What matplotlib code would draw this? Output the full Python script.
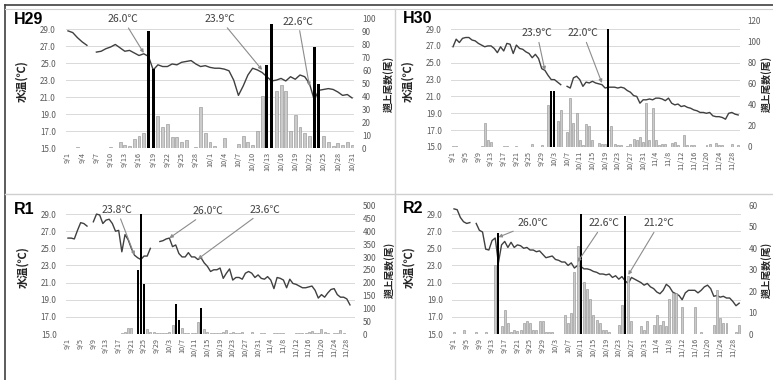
import numpy as np
import pandas as pd
import matplotlib
matplotlib.use("Agg")
import matplotlib.pyplot as plt
from matplotlib.lines import Line2D

plt.rcParams['font.family'] = ['Noto Sans CJK JP', 'DejaVu Sans']
nan = np.nan

# ---- H29 (9/1 - 10/31) ----
h29_temp = [28.8, 28.6, 28.0, 27.5, 27.1, nan, 26.3, 26.4, 26.7, 26.9,
            27.2, 26.8, 26.4, 26.5, 26.2, 25.9, 26.1, 25.8, 24.2, 24.8,
            24.6, 24.6, 24.9, 24.8, 25.1, 25.2, 25.3, 24.9, 24.6, 24.7,
            24.5, 24.4, 24.4, 24.3, 24.1, 23.0, 21.2, 22.3, 23.6, 24.4,
            24.2, 23.9, 23.4, 22.9, 23.0, 23.2, 22.9, 23.4, 23.1, 23.6,
            23.4, 22.6, 20.7, 21.8, 21.9, 22.0, 21.9, 21.6, 21.2, 21.3,
            20.9]
h29_count = [0, 0, 1, 0, 0, 0, 0, 0, 0, 1,
             0, 5, 2.5, 1.5, 7, 9.5, 12, 0, 0, 25,
             16.5, 18.5, 8.5, 8.5, 4.5, 6, 0, 1, 32, 11.5,
             4.5, 1.5, 0, 7.5, 0, 0, 3, 9.5, 4.5, 2.5,
             13.5, 40, 0, 0, 44.5, 49, 44.5, 13.5, 25.5, 16.5,
             11.5, 9.5, 0, 0, 9, 4.5, 1.5, 4, 2.5, 5,
             2]
h29_black_day = ['9/18', '9/19', '10/13', '10/14', '10/23', '10/24']
h29_black = [91, 61, 64, 96, 78, 50]
h29_notes = [('26.0℃', '9/17', 26.2), ('23.9℃', '10/12', 24.2), ('22.6℃', '10/22', 22.3)]

# ---- H30 (9/1 - 11/30) ----
h30_temp = [26.9, 27.8, 27.4, 27.9, 28.0, 28.0, 27.7, 27.6, 27.3, 27.1,
            26.9, 27.0, 27.0, 26.7, 26.2, 26.9, 26.4, 27.3, 27.2, 26.1,
            27.1, 26.7, 26.6, 26.3, 26.1, 25.6, 26.0, 25.5, 24.3, 24.1,
            23.5, 23.0, 23.0, 22.7, 22.4, nan, 22.2, 22.0, 23.2, 23.4,
            23.0, 22.2, 22.7, 22.6, 22.8, 22.6, 22.5, 22.4, 22.0, 22.1,
            22.1, 22.1, 22.0, 22.1, 22.0, 21.7, 21.5, 21.1, 21.0, 20.2,
            20.6, 20.6, 20.7, 20.6, 20.8, 20.8, 20.7, 20.5, 20.8, 20.2,
            20.0, 20.1, 19.8, 19.9, 19.7, 19.6, 19.4, 19.3, 19.1, 19.1,
            19.0, 19.1, 18.7, 18.6, 18.6, 18.5, 18.3, 19.0, 19.1, 18.9,
            18.8]
h30_count = [1, 1, 0, 0, 0, 0, 0, 0, 0, 1,
             23, 7, 5, 0, 0, 0, 1, 1, 0, 0,
             1, 0, 0, 0, 0, 3, 0, 0, 1.5, 0,
             40, 0, 0, 25, 35, 0, 14, 46, 23, 32,
             7, 1.5, 22, 19.5, 7, 0, 4, 3, 2.5, 0,
             19.5, 3, 2, 2, 0, 1, 3, 7.5, 7, 9,
             5, 42, 7, 37, 6.5, 1.5, 2.5, 2.5, 0, 3.5,
             4.5, 2, 0, 11.5, 1.5, 2, 2, 0, 0, 0,
             2, 3, 0, 3.5, 2, 2, 0, 0, 2.5, 0,
             2]
h30_black_day = ['10/2', '10/3', '10/20']
h30_black = [53, 53, 112]
h30_notes = [('23.9℃', '9/30', 24.1), ('22.0℃', '10/18', 22.6)]

# ---- R1 (9/1 - 11/30) ----
r1_temp = [26.2, 26.2, 26.1, 27.1, 28.0, 27.9, 27.6, nan, 28.1, 29.0,
           28.9, 27.9, 28.3, 28.4, 27.9, 27.0, 27.1, 24.6, 26.6, 26.0,
           25.0, 24.2, 23.9, 23.7, 24.1, 24.1, 25.0, nan, nan, 25.8,
           25.9, 26.1, 26.2, 25.2, 25.4, 24.4, 24.0, 24.0, 24.5, 24.0,
           24.0, 23.7, 23.9, 23.3, 22.9, 22.3, 22.5, 22.5, 22.7, 21.5,
           22.1, 22.6, 21.3, 21.6, 21.6, 21.4, 22.1, 22.3, 22.1, 21.6,
           21.9, 21.5, 21.4, 21.7, 21.3, 20.3, 21.6, 21.5, 21.3, 20.4,
           21.4, 20.9, 20.8, 20.6, 20.4, 20.4, 20.5, 20.6, 20.1, 19.2,
           19.6, 19.3, 19.8, 20.2, 20.3, 19.6, 19.3, 19.3, 19.1, 18.4,
           nan]
r1_count = [0, 0, 2, 0, 0, 0, 0, 2, 0, 0,
            0, 0, 2, 0, 2, 0, 0, 4, 8, 22,
            22, 0, 0, 0, 0, 18, 9, 6, 3, 4,
            4, 4, 6, 35, 0, 0, 22, 5, 4, 4,
            4, 47, 0, 19, 6, 3, 3, 5, 3, 8,
            14, 5, 7, 4, 3, 6, 2, 2, 7, 0,
            0, 3, 4, 0, 0, 4, 3, 3, 5, 2,
            0, 0, 4, 3, 3, 3, 6, 10, 4, 3,
            18, 8, 4, 0, 5, 5, 15, 4, 2, 0,
            0]
r1_black_day = ['9/23', '9/24', '9/25', '10/5', '10/6', '10/13']
r1_black = [249, 467, 195, 118, 55, 100]
r1_notes = [('23.8℃', '9/22', 24.2), ('26.0℃', '10/3', 26.2), ('23.6℃', '10/12', 23.75)]

# ---- R2 (9/1 - 11/30) ----
r2_temp = [29.6, 29.5, 28.6, 28.1, 27.9, 28.0, nan, 27.9, 27.1, 26.9,
           24.9, 24.8, 25.9, 26.2, 23.3, 25.4, 25.8, 25.1, 25.7, 25.1,
           25.4, 25.3, 25.0, 25.1, 24.8, 24.8, 24.6, 24.7, 24.3, 23.9,
           24.0, 24.1, 23.7, 23.6, 23.4, 23.4, 23.0, 23.3, 22.7, 23.0,
           22.9, 22.6, 22.6, 22.5, 22.3, 22.2, 22.0, 22.0, 21.9, 22.0,
           21.6, 21.8, 21.4, 21.7, 21.2, 20.9, 21.6, 21.4, 21.2, 21.0,
           20.7, 20.9, 20.5, 20.3, 19.9, 19.7, 20.1, 20.8, 20.5, 19.9,
           19.7, 19.5, 19.0, 19.8, 20.1, 20.1, 20.1, 19.8, 20.1, 20.5,
           20.7, 20.3, 19.4, 19.5, 19.3, 19.4, 19.2, 19.2, 18.8, 18.3,
           18.6]
r2_count = [1, 0, 0, 2, 0, 0, 0, 1, 0, 0,
            1, 0, 0, 32, 0, 3.5, 11, 5, 1, 2,
            1.5, 2, 5, 6, 5, 2, 2, 6, 6, 1,
            1, 1, 0, 0, 0, 9, 5, 10, 29, 41,
            0, 24, 21, 16.5, 9, 6.5, 5, 2, 2, 1,
            0, 0, 4, 13.5, 0, 27, 6, 0, 0, 3.5,
            2, 6, 0, 4, 9, 4, 6, 3.5, 16.5, 19,
            19, 0, 12.5, 0, 0, 0, 12.5, 0, 1, 0,
            0, 0, 4, 20.5, 7.5, 5, 5, 0, 0, 1,
            4]
r2_black_day = ['9/15', '10/11', '10/25']
r2_black = [47, 56, 55]
r2_notes = [('26.0℃', '9/15', 26.3), ('22.6℃', '10/10', 23.4), ('21.2℃', '10/26', 21.9)]


def day_labels(start, end):
    return [f"{d.month}/{d.day}" for d in pd.date_range(start, end)]


def draw(fig, rect, title, title_xy, labels, temp, count, black_day, black, cmax, cstep,
         notes, note_pos, tick_step, tmax, rlab_x):
    ax = fig.add_axes(rect)
    x = np.arange(len(labels))
    ax.plot(x, temp, color='#404040', lw=1.0, zorder=3)
    ax.set_xlim(-0.5, len(labels) - 0.5)
    ax.set_ylim(15, tmax)
    yt = np.arange(15, 30, 2)
    ax.set_yticks(yt)
    ax.set_yticklabels([f"{v:.1f}" for v in yt])
    ax.grid(axis='y', color='#d9d9d9', lw=0.7)
    ax.set_axisbelow(True)
    for s in ax.spines.values():
        s.set_visible(False)
    ax.set_xticks(x[::tick_step])
    ax.set_xticklabels(labels[::tick_step], rotation=90)
    ax.tick_params(axis='y', length=0, labelsize=5.8, colors='#595959', pad=7)
    ax.tick_params(axis='x', length=0, labelsize=5.2, colors='#595959', pad=3)
    ax.set_ylabel('水温(℃)', fontsize=8, fontweight='bold', color='#262626')
    ax.yaxis.set_label_coords(-0.13, 0.52)

    ax2 = ax.twinx()
    ax2.bar(x, count, width=0.62, color='#cbcbcb', edgecolor='#8c8c8c', lw=0.4, zorder=2)
    bx = [labels.index(d) for d in black_day]
    ax2.bar(bx, black, width=0.62, color='black', zorder=3)
    ax2.set_ylim(0, cmax)
    ax2.set_yticks(np.arange(0, cmax + 1, cstep))
    for s in ax2.spines.values():
        s.set_visible(False)
    ax2.tick_params(axis='y', length=0, labelsize=5.8, colors='#595959', pad=5.5)
    ax2.set_ylabel('遡上尾数(尾)', fontsize=7, fontweight='bold', color='#262626')
    ax2.yaxis.set_label_coords(rlab_x, 0.5)

    for (txt, day, t), (tx, ty) in zip(notes, note_pos):
        ax2.annotate(txt, xy=(labels.index(day), t), xycoords=ax.transData,
                     xytext=(tx, ty), textcoords=ax.transData,
                     ha='center', va='center', fontsize=7.5, color='#404040',
                     annotation_clip=False, zorder=5,
                     arrowprops=dict(arrowstyle='-|>', color='#8c8c8c', lw=0.8,
                                     mutation_scale=5, shrinkA=1, shrinkB=0))

    fig.text(title_xy[0] / 773, 1 - title_xy[1] / 380, title, fontsize=11.5,
             fontweight='bold', family=['Liberation Sans', 'DejaVu Sans'], va='top')


fig = plt.figure(figsize=(7.73, 3.80), dpi=100)

lab61 = day_labels('2017-09-01', '2017-10-31')
lab91 = day_labels('2018-09-01', '2018-11-30')

draw(fig, [0.0849, 0.6105, 0.3736, 0.3395], 'H29', (14, 12), lab61, h29_temp, h29_count,
     h29_black_day, h29_black, 100, 10, h29_notes,
     [(11.6, 30.2), (32.1, 30.2), (48.6, 29.9)], 3, 30.2, 1.1)
draw(fig, [0.584, 0.6132, 0.373, 0.334], 'H30', (403, 11), lab91, h30_temp, h30_count,
     h30_black_day, h30_black, 120, 20, h30_notes,
     [(26.5, 28.5), (41.0, 28.5)], 4, 30.07, 1.075)
draw(fig, [0.0859, 0.121, 0.373, 0.337], 'R1', (14, 202), lab91, r1_temp, r1_count,
     r1_black_day, r1_black, 500, 50, r1_notes,
     [(15.5, 29.5), (44.2, 29.35), (62.1, 29.5)], 4, 29.95, 1.1)
draw(fig, [0.5853, 0.121, 0.373, 0.3395], 'R2', (403, 201), lab91, r2_temp, r2_count,
     r2_black_day, r2_black, 60, 10, r2_notes,
     [(24.8, 27.9), (47.2, 27.9), (64.8, 27.9)], 4, 30.05, 1.07)

# panel frames
dark, light = '#404040', '#d0d0d0'
fig.add_artist(Line2D([0.0065, 1.0], [0.987, 0.987], transform=fig.transFigure, color=dark, lw=1.2))
fig.add_artist(Line2D([0.0065, 0.0065], [0.0, 0.987], transform=fig.transFigure, color=dark, lw=1.2))
fig.add_artist(Line2D([0.0065, 1.0], [0.976, 0.976], transform=fig.transFigure, color=light, lw=0.8))
fig.add_artist(Line2D([0.511, 0.511], [0.0, 0.976], transform=fig.transFigure, color=light, lw=1.0))
fig.add_artist(Line2D([0.0065, 1.0], [0.4895, 0.4895], transform=fig.transFigure, color=light, lw=1.0))

fig.savefig('out.png', dpi=100)
